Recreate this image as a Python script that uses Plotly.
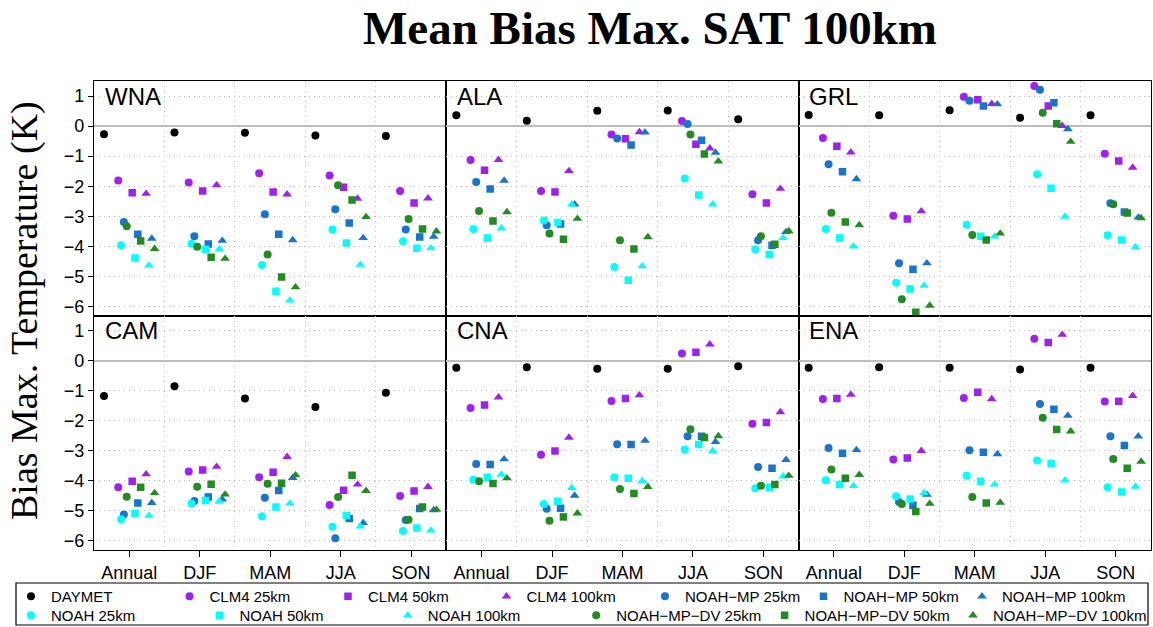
import plotly.graph_objects as go

# Seasons on the x axis of every panel
seasons = ["Annual", "DJF", "MAM", "JJA", "SON"]
regions = ["WNA", "ALA", "GRL", "CAM", "CNA", "ENA"]
series = ["DAYMET",
          "CLM4 25km", "CLM4 50km", "CLM4 100km",
          "NOAH\u2212MP 25km", "NOAH\u2212MP 50km", "NOAH\u2212MP 100km",
          "NOAH 25km", "NOAH 50km", "NOAH 100km",
          "NOAH\u2212MP\u2212DV 25km", "NOAH\u2212MP\u2212DV 50km", "NOAH\u2212MP\u2212DV 100km"]

# Mean bias of max. surface air temperature (K); one list per series, values for Annual, DJF, MAM, JJA, SON
WNA = [
    [-0.27, -0.21, -0.22, -0.31, -0.33],
    [-1.81, -1.88, -1.57, -1.64, -2.16],
    [-2.22, -2.16, -2.19, -2.03, -2.56],
    [-2.25, -1.96, -2.27, -2.41, -2.40],
    [-3.19, -3.66, -2.93, -2.77, -3.44],
    [-3.60, -3.92, -3.60, -3.22, -3.69],
    [-3.74, -3.81, -3.79, -3.72, -3.68],
    [-3.96, -3.91, -4.62, -3.44, -3.83],
    [-4.39, -4.10, -5.49, -3.89, -4.06],
    [-4.63, -4.09, -5.80, -4.61, -4.06],
    [-3.33, -4.01, -4.27, -1.97, -3.09],
    [-3.82, -4.36, -5.02, -2.46, -3.42],
    [-4.08, -4.41, -5.36, -3.02, -3.50],
]
ALA = [
    [0.36, 0.18, 0.51, 0.52, 0.23],
    [-1.13, -2.16, -0.28, 0.17, -2.27],
    [-1.47, -2.19, -0.42, -0.60, -2.56],
    [-1.12, -1.49, -0.20, -0.74, -2.08],
    [-1.86, -3.30, -0.41, 0.07, -3.80],
    [-2.09, -3.26, -0.63, -0.47, -3.96],
    [-1.81, -2.60, -0.21, -0.88, -3.52],
    [-3.42, -3.14, -4.69, -1.74, -4.10],
    [-3.72, -3.21, -5.13, -2.29, -4.27],
    [-3.40, -2.60, -4.66, -2.60, -3.72],
    [-2.82, -3.57, -3.80, -0.28, -3.66],
    [-3.16, -3.76, -4.09, -0.93, -3.93],
    [-2.86, -3.08, -3.69, -1.17, -3.49],
]
GRL = [
    [0.37, 0.36, 0.53, 0.28, 0.36],
    [-0.40, -2.98, 0.98, 1.33, -0.92],
    [-0.67, -3.09, 0.88, 0.67, -1.16],
    [-0.87, -2.83, 0.74, 0.01, -1.38],
    [-1.27, -4.56, 0.84, 1.21, -2.57],
    [-1.52, -4.76, 0.67, 0.78, -2.86],
    [-1.76, -4.56, 0.73, -0.10, -3.04],
    [-3.42, -5.21, -3.28, -1.60, -3.63],
    [-3.72, -5.42, -3.66, -2.07, -3.79],
    [-4.00, -5.31, -3.67, -3.01, -4.02],
    [-2.88, -5.76, -3.62, 0.44, -2.60],
    [-3.19, -6.19, -3.79, 0.08, -2.89],
    [-3.29, -5.97, -3.57, -0.52, -3.06],
]
CAM = [
    [-1.18, -0.85, -1.26, -1.54, -1.07],
    [-4.21, -3.69, -3.88, -4.80, -4.50],
    [-4.01, -3.64, -3.71, -4.31, -4.34],
    [-3.78, -3.53, -3.20, -4.12, -4.20],
    [-5.12, -4.67, -4.56, -5.91, -5.30],
    [-4.74, -4.54, -4.32, -5.25, -4.92],
    [-4.73, -4.62, -3.90, -5.40, -4.97],
    [-5.28, -4.75, -5.18, -5.53, -5.67],
    [-5.08, -4.65, -4.87, -5.15, -5.57],
    [-5.16, -4.68, -4.75, -5.51, -5.65],
    [-4.53, -4.20, -4.10, -4.54, -5.29],
    [-4.21, -4.11, -4.08, -3.81, -4.87],
    [-4.40, -4.45, -3.81, -4.33, -4.96],
]
CNA = [
    [-0.24, -0.22, -0.27, -0.27, -0.19],
    [-1.58, -3.13, -1.34, 0.24, -2.10],
    [-1.48, -3.01, -1.26, 0.28, -2.06],
    [-1.22, -2.56, -1.15, 0.54, -1.71],
    [-3.44, -4.93, -2.78, -2.52, -3.54],
    [-3.46, -4.91, -2.79, -2.52, -3.58],
    [-3.28, -4.49, -2.66, -2.70, -3.30],
    [-3.96, -4.77, -3.88, -2.96, -4.25],
    [-3.88, -4.68, -3.91, -2.79, -4.21],
    [-3.79, -4.23, -4.00, -3.01, -3.85],
    [-4.01, -5.33, -4.27, -2.28, -4.16],
    [-4.09, -5.20, -4.42, -2.56, -4.12],
    [-3.91, -5.08, -4.20, -2.51, -3.83],
]
ENA = [
    [-0.24, -0.22, -0.24, -0.30, -0.24],
    [-1.28, -3.29, -1.24, 0.73, -1.36],
    [-1.26, -3.24, -1.05, 0.60, -1.35],
    [-1.13, -3.00, -1.28, 0.86, -1.17],
    [-2.91, -4.70, -2.98, -1.44, -2.52],
    [-3.08, -4.81, -3.05, -1.62, -2.82],
    [-2.97, -4.46, -3.11, -1.83, -2.52],
    [-3.98, -4.51, -3.83, -3.32, -4.21],
    [-4.12, -4.60, -4.01, -3.42, -4.37],
    [-4.17, -4.40, -4.12, -3.98, -4.19],
    [-3.62, -4.77, -4.54, -1.90, -3.27],
    [-3.91, -5.02, -4.74, -2.29, -3.58],
    [-3.80, -4.76, -4.72, -2.35, -3.36],
]
region_data = [WNA, ALA, GRL, CAM, CNA, ENA]

# Marker style per series
BLACK, PURPLE, BLUE, CYAN, GREEN = "#000000", "#A020F0", "#1874CD", "#00FFFF", "#228B22"
colors = [BLACK, PURPLE, PURPLE, PURPLE, BLUE, BLUE, BLUE, CYAN, CYAN, CYAN, GREEN, GREEN, GREEN]
symbols = ["circle"] + ["circle", "square", "triangle-up"] * 4
sizes = [8] + [8, 7.5, 8.5] * 4

# Horizontal dodge inside each season slot (x units): resolution steps right, model nudges right
model_nudge = {"DAYMET": 0, "CLM4": 0, "NOAH": 1, "NOAH\u2212MP": 2, "NOAH\u2212MP\u2212DV": 3}
def dodge(i):
    if i == 0:
        return -0.358
    res = (i - 1) % 3
    model = series[i].rsplit(" ", 1)[0]
    return -0.156 + 0.198 * res + 0.04 * model_nudge[model]

# wider slot for the last entry of each legend row so its text is not clipped
legend_widths = [None] * 6 + [135] + [None] * 5 + [158]

fig = go.Figure()
cols = [(0.0, 1 / 3), (1 / 3, 2 / 3), (2 / 3, 1.0)]
rows = [(0.5, 1.0), (0.0, 0.5)]
xs = list(range(1, len(seasons) + 1))
GRID = "#BDBDBD"
DOTS = "1px,4px"

for p, (name, data) in enumerate(zip(regions, region_data)):
    ax = "" if p == 0 else str(p + 1)
    for i, s in enumerate(series):
        tr = dict(
            x=[x + dodge(i) for x in xs], y=data[i], mode="markers", name=s,
            marker=dict(color=colors[i], symbol=symbols[i], size=sizes[i], line=dict(width=0)),
            xaxis="x" + ax, yaxis="y" + ax,
            showlegend=(p == 0), legend="legend" if i < 7 else "legend2",
        )
        if legend_widths[i]:
            tr["legendwidth"] = legend_widths[i]
        fig.add_trace(go.Scatter(**tr))
    r, c = divmod(p, 3)
    xa = dict(domain=cols[c], anchor="y" + ax, range=[0.5, 5.5], showline=True, mirror=True,
              linecolor="black", linewidth=1.2, showgrid=False, zeroline=False,
              tickmode="array", tickvals=xs, ticktext=seasons if r == 1 else [""] * 5,
              ticks="outside" if r == 1 else "", ticklen=6, tickcolor="black", tickwidth=1,
              tickfont=dict(family="Liberation Sans", size=18, color="black"),
              minor=dict(tick0=0.5, dtick=1, showgrid=True, gridcolor=GRID,
                         griddash=DOTS, gridwidth=1, ticks=""))
    ya = dict(domain=rows[r], anchor="x" + ax, range=[-6.3, 1.5], showline=True, mirror=True,
              linecolor="black", linewidth=1.2, tickmode="array", tickvals=list(range(-6, 2)),
              ticktext=[str(v).replace("-", "\u2212") for v in range(-6, 2)] if c == 0 else [""] * 8,
              ticks="outside" if c == 0 else "", ticklen=5, tickcolor="black", tickwidth=1,
              tickfont=dict(family="Liberation Sans", size=18, color="black"),
              showgrid=True, gridcolor=GRID, griddash=DOTS, gridwidth=1,
              zeroline=True, zerolinecolor="#BEBEBE", zerolinewidth=2)
    fig.update_layout({"xaxis" + ax: xa, "yaxis" + ax: ya})
    fig.add_annotation(text=name, xref=("x" + ax) + " domain", yref="y" + ax,
                       x=0.025, y=1.0, xanchor="left", yanchor="middle", showarrow=False,
                       font=dict(family="Liberation Sans", size=24, color="black"))

# y-axis title
fig.add_annotation(text="Bias Max. Temperature (K)", xref="paper", yref="paper",
                   x=(24 - 94) / 1057, y=(550 - 311) / 469, textangle=-90, showarrow=False,
                   xanchor="center", yanchor="middle",
                   font=dict(family="Liberation Serif", size=38, color="black"))

# box around the two legend rows
fig.add_shape(type="rect", xref="paper", yref="paper",
              x0=(16 - 94) / 1057, x1=(1148 - 94) / 1057,
              y0=(550 - 625) / 469, y1=(550 - 583) / 469,
              line=dict(color="black", width=1.2))

legend_font = dict(family="Liberation Sans", size=15, color="black")
legend_common = dict(orientation="h", x=(11 - 94) / 1057, xanchor="left", yanchor="top",
                     entrywidthmode="pixels", font=legend_font, bgcolor="rgba(0,0,0,0)",
                     itemsizing="trace", tracegroupgap=0, itemclick=False)
fig.update_layout(
    width=1153, height=627,
    margin=dict(l=94, r=2, t=81, b=77, autoexpand=False),
    paper_bgcolor="white", plot_bgcolor="white",
    title=dict(text="<b>Mean Bias Max. SAT 100km</b>", x=650 / 1153, xanchor="center",
               y=1 - 28 / 627, yanchor="middle",
               font=dict(family="Liberation Serif", size=47, color="black")),
    legend=dict(y=(550 - 580) / 469, entrywidth=113.5, **legend_common),
    legend2=dict(y=(550 - 599) / 469, entrywidth=143.4, **legend_common),
)

fig.write_html("out.html")
